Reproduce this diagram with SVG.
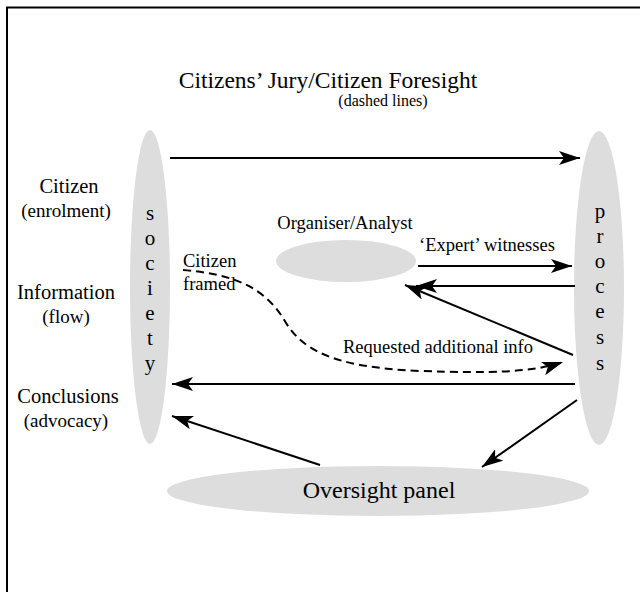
<svg xmlns="http://www.w3.org/2000/svg" width="640" height="592" viewBox="0 0 640 592">
<style>
text{font-family:"Liberation Serif","Times New Roman",serif;fill:#000}
.node{fill:#dddddd;stroke:none}
.ln{stroke:#000;stroke-width:2;fill:none;marker-end:url(#ah)}
.dash{stroke-dasharray:8,5}
.big{font-size:23.5px}
.lbl{font-size:20.5px}
.sub{font-size:19px}
.mid{font-size:18.5px}
.ltr{font-size:21px;text-anchor:middle}
</style>
<defs>
<marker id="ah" markerUnits="userSpaceOnUse" markerWidth="24" markerHeight="14" refX="21" refY="7" orient="auto" viewBox="0 0 24 14">
<path d="M0,0 L21,7 L0,14 L5,7 Z" fill="#000"/>
</marker>
</defs>
<rect width="640" height="592" fill="#fff"/>
<path d="M7,592 V7.5 H640" fill="none" stroke="#000" stroke-width="2"/>
<g id="title">
<text class="big" x="328" y="88" text-anchor="middle">Citizens’ Jury/Citizen Foresight</text>
<text x="383" y="106" text-anchor="middle" font-size="16">(dashed lines)</text>
</g>
<g id="labels">
<text class="lbl" x="69" y="193" text-anchor="middle">Citizen</text>
<text class="sub" x="66" y="217" text-anchor="middle">(enrolment)</text>
<text class="lbl" x="66" y="299" text-anchor="middle">Information</text>
<text class="sub" x="66" y="323" text-anchor="middle">(flow)</text>
<text class="lbl" x="68" y="403" text-anchor="middle">Conclusions</text>
<text class="sub" x="66" y="427" text-anchor="middle">(advocacy)</text>
</g>
<g id="society">
<ellipse class="node" cx="150" cy="287" rx="20" ry="157"/>
<text class="ltr" x="150" y="220">s</text>
<text class="ltr" x="150" y="245">o</text>
<text class="ltr" x="150" y="270">c</text>
<text class="ltr" x="150" y="295">i</text>
<text class="ltr" x="150" y="320">e</text>
<text class="ltr" x="150" y="345">t</text>
<text class="ltr" x="150" y="370">y</text>
</g>
<g id="process">
<ellipse class="node" cx="599" cy="288" rx="25" ry="157"/>
<text class="ltr" x="600" y="218">p</text>
<text class="ltr" x="600" y="243">r</text>
<text class="ltr" x="600" y="268">o</text>
<text class="ltr" x="600" y="293">c</text>
<text class="ltr" x="600" y="318">e</text>
<text class="ltr" x="600" y="344">s</text>
<text class="ltr" x="600" y="370">s</text>
</g>
<g id="organiser">
<ellipse class="node" cx="346" cy="261" rx="70" ry="21"/>
<text class="mid" x="345" y="229" text-anchor="middle">Organiser/Analyst</text>
</g>
<g id="oversight">
<ellipse class="node" cx="378" cy="491" rx="211" ry="25"/>
<text class="big" x="379" y="498" font-size="24" style="font-size:24px" text-anchor="middle">Oversight panel</text>
</g>
<g id="connectors">
<line class="ln" x1="170" y1="158" x2="580" y2="158"/>
<line class="ln" x1="418" y1="266" x2="572" y2="266"/>
<line class="ln" x1="575" y1="286" x2="416" y2="286"/>
<line class="ln" x1="573" y1="355" x2="405" y2="285"/>
<line class="ln" x1="575" y1="384" x2="172" y2="384"/>
<line class="ln" x1="320" y1="465" x2="172" y2="416"/>
<line class="ln" x1="577" y1="400" x2="482" y2="467"/>
<path class="ln dash" d="M183,270 C230,274 262,285 283,318 C300,348 328,367 420,371 C490,373 530,373 563,362"/>
</g>
<g id="edge-labels">
<text class="mid" x="487" y="251" text-anchor="middle">‘Expert’ witnesses</text>
<text class="mid" x="438" y="353" text-anchor="middle">Requested additional info</text>
<text class="mid" x="183" y="267">Citizen</text>
<text class="mid" x="183" y="290">framed</text>
</g>
</svg>
